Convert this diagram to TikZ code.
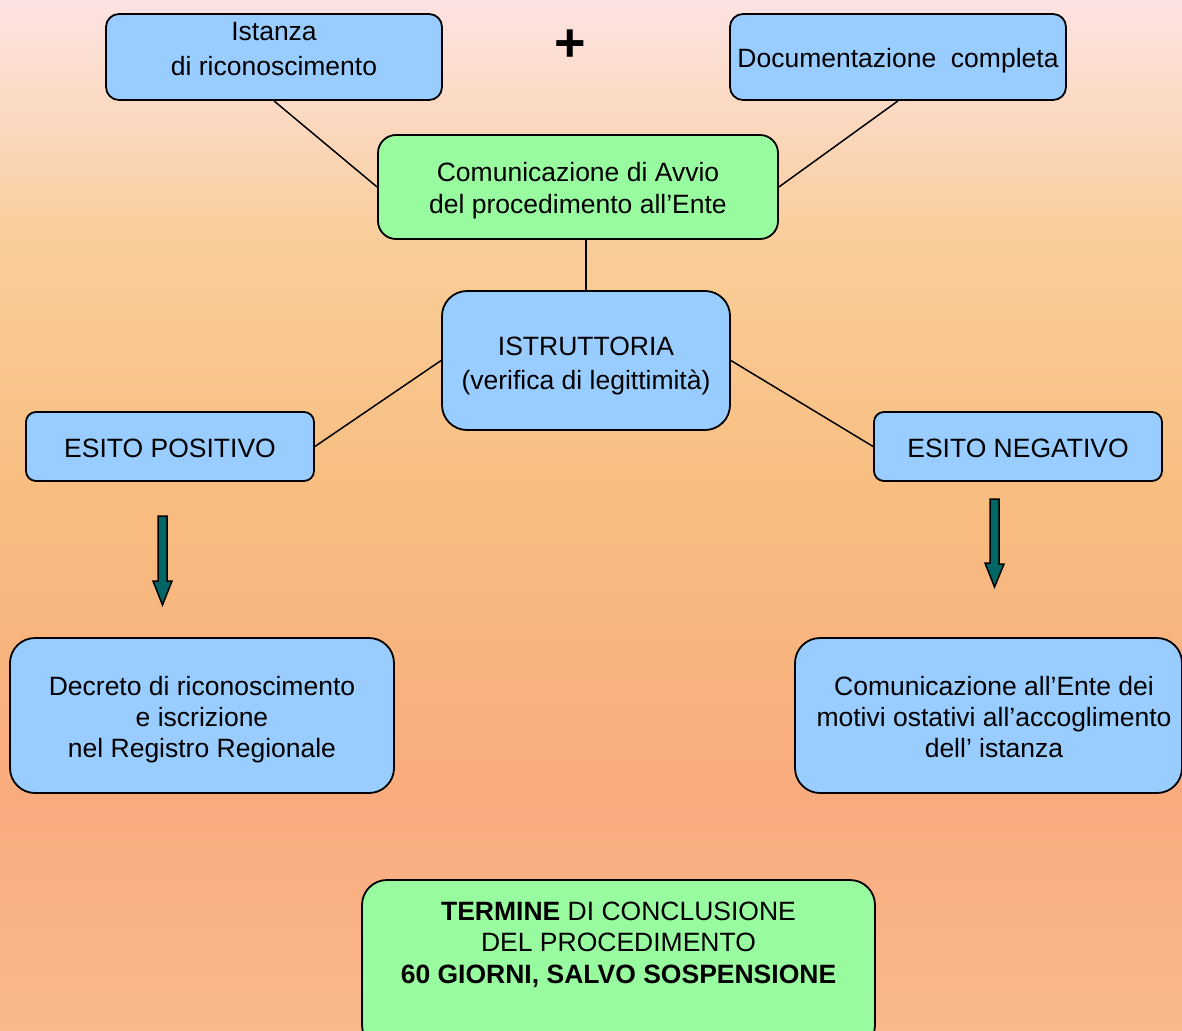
\documentclass[tikz,border=0pt]{standalone}
\usepackage{fontspec}
\setmainfont{Liberation Sans}
\definecolor{boxblue}{HTML}{99CCFF}
\definecolor{boxgreen}{HTML}{99FB9F}
\definecolor{arrowteal}{HTML}{006666}
\definecolor{bgA}{HTML}{FDE3E3}
\definecolor{bgB}{HTML}{F9CD98}
\definecolor{bgC}{HTML}{F8BD80}
\definecolor{bgD}{HTML}{F9AB7E}
\definecolor{bgE}{HTML}{FAB98A}
\pgfdeclareverticalshading{bgshade}{100bp}{color(0bp)=(bgE); color(25bp)=(bgE); color(36.2bp)=(bgD); color(50.7bp)=(bgC); color(62.9bp)=(bgB); color(75bp)=(bgA); color(100bp)=(bgA)}
\begin{document}
\begin{tikzpicture}[x=1pt,y=-1pt,
  box/.style={draw=black, line width=1.8pt, inner sep=0pt},
  bluebox/.style={box, fill=boxblue},
  greenbox/.style={box, fill=boxgreen},
  lbl/.style={inner sep=0pt, align=center, font=\fontsize{26.5}{32}\selectfont},
  link/.style={draw=black, line width=1.5pt},
  fatarrow/.style={draw=black, line width=1.5pt, fill=arrowteal, line join=miter}
]
\useasboundingbox (0,0) rectangle (1182,1030);
\clip (0,0) rectangle (1182,1030);
\shade[shading=bgshade] (0,0) rectangle (1182,1030);

% boxes
\node[bluebox, rounded corners=13pt, minimum width=336pt, minimum height=86pt] (ist) at (274,57) {};
\node[lbl, font=\fontsize{26.5}{35}\selectfont] (istT) at (274,49) {Istanza\\di riconoscimento};

\node[font=\fontsize{54}{54}\selectfont\bfseries, inner sep=0pt] (plus) at (570.5,46) {+};

\node[bluebox, rounded corners=13pt, minimum width=336pt, minimum height=86pt] (doc) at (898,57) {};
\node[lbl] (docT) at (898,61) {Documentazione\ \ completa};

\node[greenbox, rounded corners=18pt, minimum width=400pt, minimum height=104pt] (com) at (578,187) {};
\node[lbl] (comT) at (578,191) {Comunicazione di Avvio\\del procedimento all’Ente};

\node[bluebox, rounded corners=25pt, minimum width=288pt, minimum height=139pt] (istr) at (586,360.5) {};
\node[lbl, font=\fontsize{26.5}{34.5}\selectfont] (istrT) at (586,366) {ISTRUTTORIA\\(verifica di legittimità)};

\node[bluebox, rounded corners=10pt, minimum width=288pt, minimum height=69pt] (pos) at (170,446.5) {};
\node[lbl] (posT) at (170,448) {ESITO POSITIVO};

\node[bluebox, rounded corners=10pt, minimum width=288pt, minimum height=69pt] (neg) at (1018,446.5) {};
\node[lbl] (negT) at (1018,448) {ESITO NEGATIVO};

\node[bluebox, rounded corners=25pt, minimum width=384pt, minimum height=155pt] (dec) at (202,715.5) {};
\node[lbl, font=\fontsize{26.5}{31}\selectfont] (decT) at (202,720) {Decreto di riconoscimento\\e iscrizione\\nel Registro Regionale};

\node[bluebox, rounded corners=25pt, minimum width=387pt, minimum height=155pt] (motivi) at (988.5,715.5) {};
\node[lbl, font=\fontsize{26.5}{31}\selectfont] (motiviT) at (994,717.5) {Comunicazione all’Ente dei\\motivi ostativi all’accoglimento\\dell’ istanza};

\node[greenbox, rounded corners=25pt, minimum width=513pt, minimum height=170pt] (term) at (618.5,965) {};
\node[lbl, font=\fontsize{26.5}{31.5}\selectfont] (termT) at (618.5,944.5) {\textbf{TERMINE} DI CONCLUSIONE\\DEL PROCEDIMENTO\\\textbf{60 GIORNI, SALVO SOSPENSIONE}};

% connectors
\draw[link] (ist.south) -- (com.west);
\draw[link] (doc.south) -- (com.east);
\draw[link] (istr.north) -- (istr.north |- com.south);
\draw[link] (istr.west) -- (pos.east);
\draw[link] (istr.east) -- (neg.west);

% down arrows
\coordinate (a1s) at (162.5,516);
\coordinate (a1e) at (162.5,605);
\coordinate (a2s) at (994.5,499);
\coordinate (a2e) at (994.5,587);
\draw[fatarrow] (a1s) ++(-4.5,0) -- ++(9,0) -- ++(0,65) -- ++(5,0) -- (a1e) -- ++(-9.5,-24) -- ++(5,0) -- cycle;
\draw[fatarrow] (a2s) ++(-4.5,0) -- ++(9,0) -- ++(0,65) -- ++(5,0) -- (a2e) -- ++(-9.5,-24) -- ++(5,0) -- cycle;
\end{tikzpicture}
\end{document}
